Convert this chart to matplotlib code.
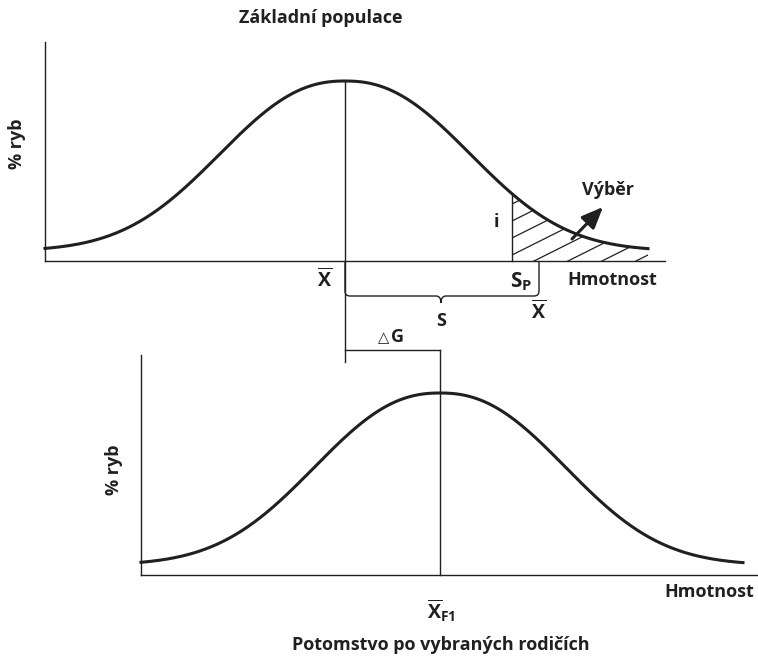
import numpy as np
import matplotlib
matplotlib.use("Agg")
import matplotlib.pyplot as plt
from matplotlib.path import Path
from matplotlib.patches import PathPatch

plt.rcParams["font.family"] = ["Open Sans", "DejaVu Sans"]
plt.rcParams["mathtext.fontset"] = "custom"
plt.rcParams["mathtext.rm"] = "Open Sans"
plt.rcParams["mathtext.bf"] = "Open Sans:bold"

# diagram in pixel units (y down); bell shape exp(-(|x-mean|/WIDTH)**SHAPE)
WIDTH, SHAPE = 161, 2.3
TOP_MEAN, TOP_PEAK, TOP_BASE = 345, 81, 251
TOP_X = [45, 648]
BOT_MEAN, BOT_PEAK, BOT_BASE = 440, 393, 565
BOT_X = [141, 743]
SEL_X = 512          # truncation point S_P
TITLE_TOP = "Základní populace"
TITLE_BOT = "Potomstvo po vybraných rodičích"
YLABEL = "% ryb"
XLABEL = "Hmotnost"


def curve(mean, peak, base, x):
    return base - (base - peak) * np.exp(-(np.abs(x - mean) / WIDTH) ** SHAPE)


fig = plt.figure(figsize=(7.58, 6.58), dpi=100)
ax = fig.add_axes([0, 0, 1, 1])
ax.set_xlim(0, 758)
ax.set_ylim(658, 0)
ax.axis("off")

K = "#231f20"
FS = 13
bold = dict(fontweight="bold", color=K)
LW_AX, LW_C = 1.0, 2.2

# ---- top panel
ax.plot([45, 45], [42, 261], color=K, lw=LW_AX)
ax.plot([45, 665], [261, 261], color=K, lw=LW_AX)
xt = np.linspace(*TOP_X, 400)
ax.plot(xt, curve(TOP_MEAN, TOP_PEAK, TOP_BASE, xt), color=K, lw=LW_C)
ax.plot([TOP_MEAN, TOP_MEAN], [TOP_PEAK, 362], color=K, lw=LW_AX)

# hatched selected tail
xs = np.linspace(SEL_X, TOP_X[1], 200)
ys = curve(TOP_MEAN, TOP_PEAK, TOP_BASE, xs)
ax.plot([SEL_X, SEL_X], [ys[0], 261], color=K, lw=LW_AX)
clip = Path(np.vstack([np.column_stack([xs, ys]), [[TOP_X[1], 261], [SEL_X, 261]]]))
clip_patch = PathPatch(clip, transform=ax.transData, facecolor="none", edgecolor="none")
ax.add_patch(clip_patch)
hx = np.array([SEL_X - 5, TOP_X[1] + 5])
for x0 in np.arange(500 - 34 * 4, 680, 34):
    hl, = ax.plot(hx, 261 - 0.5 * (hx - x0), color=K, lw=0.9)
    hl.set_clip_path(clip_patch)

ax.text(496, 222, "i", ha="center", va="center", fontsize=FS, **bold)
ax.text(608, 190, "Výběr", ha="center", va="center", fontsize=FS, **bold)
ax.annotate("", xy=(603, 207), xytext=(572, 239),
            arrowprops=dict(arrowstyle="-|>,head_length=1.3,head_width=0.55",
                            color=K, lw=2.2, shrinkA=0, shrinkB=0))

ax.text(321, 18, TITLE_TOP, ha="center", va="center", fontsize=FS, **bold)
ax.text(17, 144, YLABEL, ha="center", va="center", rotation=90, fontsize=FS, **bold)
ax.text(612, 280, XLABEL, ha="center", va="center", fontsize=FS, **bold)

# brace S
r = 5
verts = [(TOP_MEAN, 262), (TOP_MEAN, 296 - r), (TOP_MEAN, 296), (TOP_MEAN + r, 296),
         (436, 296), (441, 296), (441, 303), (441, 296), (446, 296),
         (539 - r, 296), (539, 296), (539, 296 - r), (539, 262)]
codes = [Path.MOVETO, Path.LINETO, Path.CURVE3, Path.CURVE3,
         Path.LINETO, Path.CURVE3, Path.CURVE3, Path.CURVE3, Path.CURVE3,
         Path.LINETO, Path.CURVE3, Path.CURVE3, Path.LINETO]
ax.add_patch(PathPatch(Path(verts, codes), facecolor="none", edgecolor=K, lw=LW_AX))

ax.text(325, 279, r"$\mathbf{\overline{X}}$", ha="center", va="center", fontsize=14, color=K)
ax.text(521, 282, r"$\mathbf{S_P}$", ha="center", va="center", fontsize=15, color=K)
ax.text(539, 311, r"$\mathbf{\overline{X}}$", ha="center", va="center", fontsize=14, color=K)
ax.text(441, 321, "S", ha="center", va="center", fontsize=FS, **bold)

# delta G
ax.plot([TOP_MEAN, BOT_MEAN], [350, 350], color=K, lw=LW_AX)
ax.text(384, 338, "△", ha="center", va="center", fontsize=10.5,
        family=["DejaVu Sans"], color=K)
ax.text(398, 337, "G", ha="center", va="center", fontsize=FS, **bold)

# ---- bottom panel
ax.plot([141, 141], [355, 575], color=K, lw=LW_AX)
ax.plot([141, 758], [575, 575], color=K, lw=LW_AX)
xb = np.linspace(*BOT_X, 400)
ax.plot(xb, curve(BOT_MEAN, BOT_PEAK, BOT_BASE, xb), color=K, lw=LW_C)
ax.plot([BOT_MEAN, BOT_MEAN], [350, 575], color=K, lw=LW_AX)

ax.text(114, 470, YLABEL, ha="center", va="center", rotation=90, fontsize=FS, **bold)
ax.text(709, 592, XLABEL, ha="center", va="center", fontsize=FS, **bold)
ax.text(441, 611, r"$\mathbf{\overline{X}_{F1}}$", ha="center", va="center", fontsize=14, color=K)
ax.text(441, 645, TITLE_BOT, ha="center", va="center", fontsize=FS, **bold)

fig.savefig("out.png", dpi=100)
